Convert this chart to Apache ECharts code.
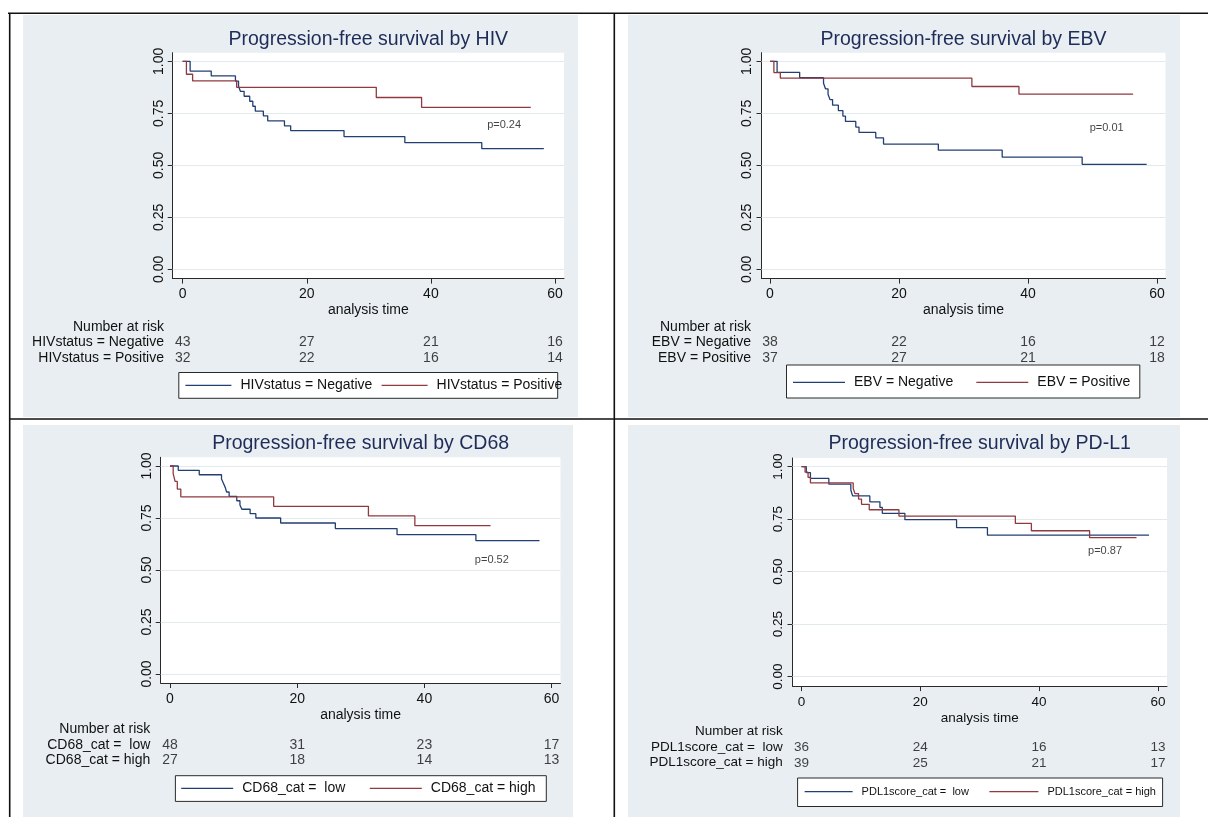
<!DOCTYPE html>
<html><head><meta charset="utf-8">
<script src="https://cdn.jsdelivr.net/npm/echarts@6/dist/echarts.min.js"></script>
<style>html,body{margin:0;padding:0;background:#fff}#c{width:1208px;height:817px}</style>
</head><body><div id="c"></div>
<script>
// ---------- data ----------
const xTicks = [0, 20, 40, 60];
const yTicks = [0, 0.25, 0.5, 0.75, 1];
const gridValues = [0, 0.25, 0.5, 0.75, 1];

const titles = ['Progression-free survival by HIV', 'Progression-free survival by EBV',
  'Progression-free survival by CD68', 'Progression-free survival by PD-L1'];
const groupNames = [
  ['HIVstatus = Negative', 'HIVstatus = Positive'],
  ['EBV = Negative', 'EBV = Positive'],
  ['CD68_cat =  low', 'CD68_cat = high'],
  ['PDL1score_cat =  low', 'PDL1score_cat = high']
];
const pValues = ['p=0.24', 'p=0.01', 'p=0.52', 'p=0.87'];

const hivNeg = [[0,1],[1.2,0.953],[4.6,0.930],[8.5,0.905],[9.0,0.880],[9.3,0.856],[9.9,0.832],[10.8,0.808],[11.3,0.784],[11.7,0.761],[13.0,0.738],[13.7,0.714],[16.4,0.690],[17.4,0.667],[26.0,0.638],[35.8,0.609],[48.2,0.580],[58.2,0.580]];
const hivPos = [[0,1],[0.6,0.938],[1.6,0.906],[8.7,0.875],[31.2,0.826],[38.5,0.779],[56.1,0.779]];
const ebvNeg = [[0,1],[1.1,0.947],[4.6,0.921],[8.3,0.895],[8.6,0.868],[9.0,0.842],[9.3,0.816],[9.7,0.789],[10.6,0.763],[11.3,0.737],[11.7,0.711],[13.3,0.684],[13.8,0.658],[16.4,0.632],[17.6,0.602],[26.1,0.573],[36.0,0.539],[48.4,0.505],[58.4,0.505]];
const ebvPos = [[0,1],[0.6,0.946],[1.6,0.919],[31.3,0.879],[38.6,0.842],[56.3,0.842]];
const cd68Low = [[0,1],[1.3,0.979],[4.6,0.958],[8.1,0.9375],[8.4,0.917],[8.7,0.896],[8.9,0.875],[9.3,0.854],[10.5,0.833],[11.0,0.8125],[11.3,0.792],[12.6,0.771],[13.5,0.75],[17.4,0.726],[26.0,0.699],[35.7,0.670],[48.1,0.641],[58.1,0.641]];
const cd68High = [[0,1],[0.5,0.963],[0.8,0.926],[1.15,0.889],[1.7,0.852],[16.3,0.806],[31.2,0.760],[38.5,0.713],[50.4,0.713]];
const pdl1Low = [[0,1],[0.8,0.972],[1.5,0.944],[4.6,0.917],[8.3,0.889],[8.6,0.861],[11.5,0.833],[13.2,0.806],[13.6,0.778],[17.4,0.748],[26.1,0.710],[31.3,0.674],[58.5,0.674]];
const pdl1High = [[0,1],[0.6,0.974],[1.1,0.949],[1.5,0.923],[8.7,0.897],[9.0,0.872],[9.6,0.846],[10.1,0.821],[11.4,0.795],[16.4,0.765],[36.0,0.730],[38.7,0.695],[48.5,0.662],[56.4,0.662]];
const curves = [[hivNeg, hivPos], [ebvNeg, ebvPos], [cd68Low, cd68High], [pdl1Low, pdl1High]];

const riskHivNeg = [43, 27, 21, 16], riskHivPos = [32, 22, 16, 14];
const riskEbvNeg = [38, 22, 16, 12], riskEbvPos = [37, 27, 21, 18];
const riskCd68Low = [48, 31, 23, 17], riskCd68High = [27, 18, 14, 13];
const riskPdl1Low = [36, 24, 16, 13], riskPdl1High = [39, 25, 21, 17];
const risks = [[riskHivNeg, riskHivPos], [riskEbvNeg, riskEbvPos], [riskCd68Low, riskCd68High], [riskPdl1Low, riskPdl1High]];

// ---------- layout / style ----------
const FONT = "'Liberation Sans', Arial, Helvetica, sans-serif";
const BLUE = '#223f73', RED = '#903a40';
const BG = '#e8eef1', GRIDC = '#e3eaee', TXT = '#111', TITLEC = '#1e2c58';
const L = [
  {left:172.7, top:52.7, width:391.3, height:225.9, xMin:-1.61, xMax:61.45, yMin:-0.0447, yMax:1.0415,
   tx:368.3, ty:39.5, rowRight:164, rowY:[326.7,342.3,357.7], riskY:[-0.351,-0.425],
   box:[178.8,372.5,378.9,25.8], leg:[[185.4,46],[381.6,46]], legY:386.5, legFont:14, font:14, p:[51.8,0.693],
   bg:[23,15,555,402]},
  {left:761.5, top:52.7, width:404, height:225.9, xMin:-1.318, xMax:61.32, yMin:-0.0447, yMax:1.0415,
   tx:963.5, ty:39.5, rowRight:751, rowY:[326.7,342.3,357.7], riskY:[-0.351,-0.425],
   box:[786.5,365,353.3,33], leg:[[793,52],[976.3,52]], legY:383.5, legFont:14, font:14, p:[52.2,0.68],
   bg:[628,15,552,402]},
  {left:160.7, top:457.3, width:399.8, height:225.7, xMin:-1.46, xMax:61.4, yMin:-0.0433, yMax:1.0418,
   tx:360.6, ty:443.5, rowRight:150.3, rowY:[729.5,745,760.5], riskY:[-0.341,-0.416],
   box:[175.4,775.7,370.9,25.7], leg:[[181.2,52],[369.8,52]], legY:789.5, legFont:14, font:14, p:[50.6,0.548],
   bg:[23,425,550,392]},
  {left:792.5, top:458, width:374.5, height:228.1, xMin:-1.52, xMax:61.53, yMin:-0.0447, yMax:1.0415,
   tx:979.7, ty:444, rowRight:782.7, rowY:[731.7,747.3,762.7], riskY:[-0.336,-0.41],
   box:[797.6,778,365,28.5], leg:[[804.6,48],[989.4,49]], legY:792.5, legFont:11, font:13.5, p:[51.1,0.60],
   bg:[628,425,552,392]}
];

const grid = [], xAxis = [], yAxis = [], series = [], legend = [], graphic = [];

L.forEach((g, i) => {
  grid.push({left:g.left, top:g.top, width:g.width, height:g.height, containLabel:false, outerBoundsMode:'none',
    show:false});
  xAxis.push({gridIndex:i, type:'value', min:g.xMin, max:g.xMax,
    axisLine:{show:true, onZero:false, lineStyle:{color:'#2a2a2a', width:1}},
    axisTick:{show:true, customValues:xTicks, length:5, lineStyle:{color:'#2a2a2a', width:1}},
    axisLabel:{show:true, customValues:xTicks, margin:9, fontSize:g.font, fontFamily:FONT, color:TXT},
    splitLine:{show:false},
    name:'analysis time', nameLocation:'middle', nameGap:25,
    nameTextStyle:{fontSize:g.font, fontFamily:FONT, color:TXT}});
  yAxis.push({gridIndex:i, type:'value', min:g.yMin, max:g.yMax,
    axisLine:{show:true, onZero:false, lineStyle:{color:'#2a2a2a', width:1}},
    axisTick:{show:true, customValues:yTicks, length:5, lineStyle:{color:'#2a2a2a', width:1}},
    axisLabel:{show:true, customValues:yTicks, rotate:90, margin:7, fontSize:g.font, fontFamily:FONT, color:TXT,
      formatter: v => Number(v).toFixed(2)},
    splitLine:{show:false}});

  // gridlines
  series.push({type:'lines', coordinateSystem:'cartesian2d', xAxisIndex:i, yAxisIndex:i, silent:true, z:1,
    lineStyle:{color:GRIDC, width:1.2, opacity:1},
    data: gridValues.map(v => ({coords:[[g.xMin, v], [g.xMax, v]]}))});

  // curves
  curves[i].forEach((d, k) => {
    series.push({type:'line', name:groupNames[i][k], xAxisIndex:i, yAxisIndex:i, data:d, step:'end',
      symbol:'none', silent:true, z:3, lineStyle:{color:k ? RED : BLUE, width:1.3},
      itemStyle:{color:k ? RED : BLUE}});
  });

  // number at risk
  const rd = [];
  risks[i].forEach((arr, r) => arr.forEach((n, j) => rd.push([xTicks[j], g.riskY[r], n])));
  series.push({type:'scatter', xAxisIndex:i, yAxisIndex:i, data:rd, symbolSize:0, clip:false, silent:true, z:5,
    label:{show:true, position:'inside', formatter:p => String(p.data[2]), fontSize:g.font, fontFamily:FONT, color:TXT}});

  // p-value
  series.push({type:'scatter', xAxisIndex:i, yAxisIndex:i, data:[g.p], symbolSize:0, silent:true, z:5,
    label:{show:true, position:'inside', formatter:pValues[i], fontSize:11, fontFamily:FONT, color:TXT}});

  // legends (one per key, line-shaped icon)
  g.leg.forEach((lg, k) => {
    legend.push({data:[{name:groupNames[i][k], icon:'rect'}], left:lg[0], top:g.legY - g.legFont * 0.58,
      itemWidth:lg[1], itemHeight:1.3, padding:0, itemGap:0, selectedMode:false,
      itemStyle:{color:k ? RED : BLUE, borderWidth:0},
      textStyle:{fontSize:g.legFont, fontFamily:FONT, color:TXT, padding:[0,0,0,4]}});
  });

  // backgrounds
  graphic.push({type:'rect', z:-5, silent:true, shape:{x:g.bg[0], y:g.bg[1], width:g.bg[2], height:g.bg[3]}, style:{fill:BG}});
  graphic.push({type:'rect', z:-4, silent:true, shape:{x:g.left, y:g.top, width:g.width, height:g.height}, style:{fill:'#ffffff'}});
  graphic.push({type:'rect', z:2, silent:true, shape:{x:g.box[0], y:g.box[1], width:g.box[2], height:g.box[3]},
    style:{fill:'#ffffff', stroke:'#2a2a2a', lineWidth:1}});
  graphic.push({type:'text', z:6, silent:true, x:g.tx, y:g.ty,
    style:{text:titles[i], fontSize:19.5, fontFamily:FONT, fill:TITLEC, align:'center', verticalAlign:'middle'}});
  const rowTexts = ['Number at risk', groupNames[i][0], groupNames[i][1]];
  rowTexts.forEach((t, r) => graphic.push({type:'text', z:6, silent:true, x:g.rowRight, y:g.rowY[r],
    style:{text:t, fontSize:g.font, fontFamily:FONT, fill:TXT, align:'right', verticalAlign:'middle'}}));
});

// cell borders
const borders = [[8,13.3,1208,13.3],[9.7,13.3,9.7,817],[614.3,13.3,614.3,817],[9.7,419,1208,419]];
borders.forEach(b => graphic.push({type:'line', z:10, silent:true, shape:{x1:b[0], y1:b[1], x2:b[2], y2:b[3]},
  style:{stroke:'#111', lineWidth:1.6}}));

const chart = echarts.init(document.getElementById('c'), null, {renderer:'canvas'});
chart.setOption({animation:false, backgroundColor:'#ffffff', grid, xAxis, yAxis, series, legend, graphic});
</script></body></html>
